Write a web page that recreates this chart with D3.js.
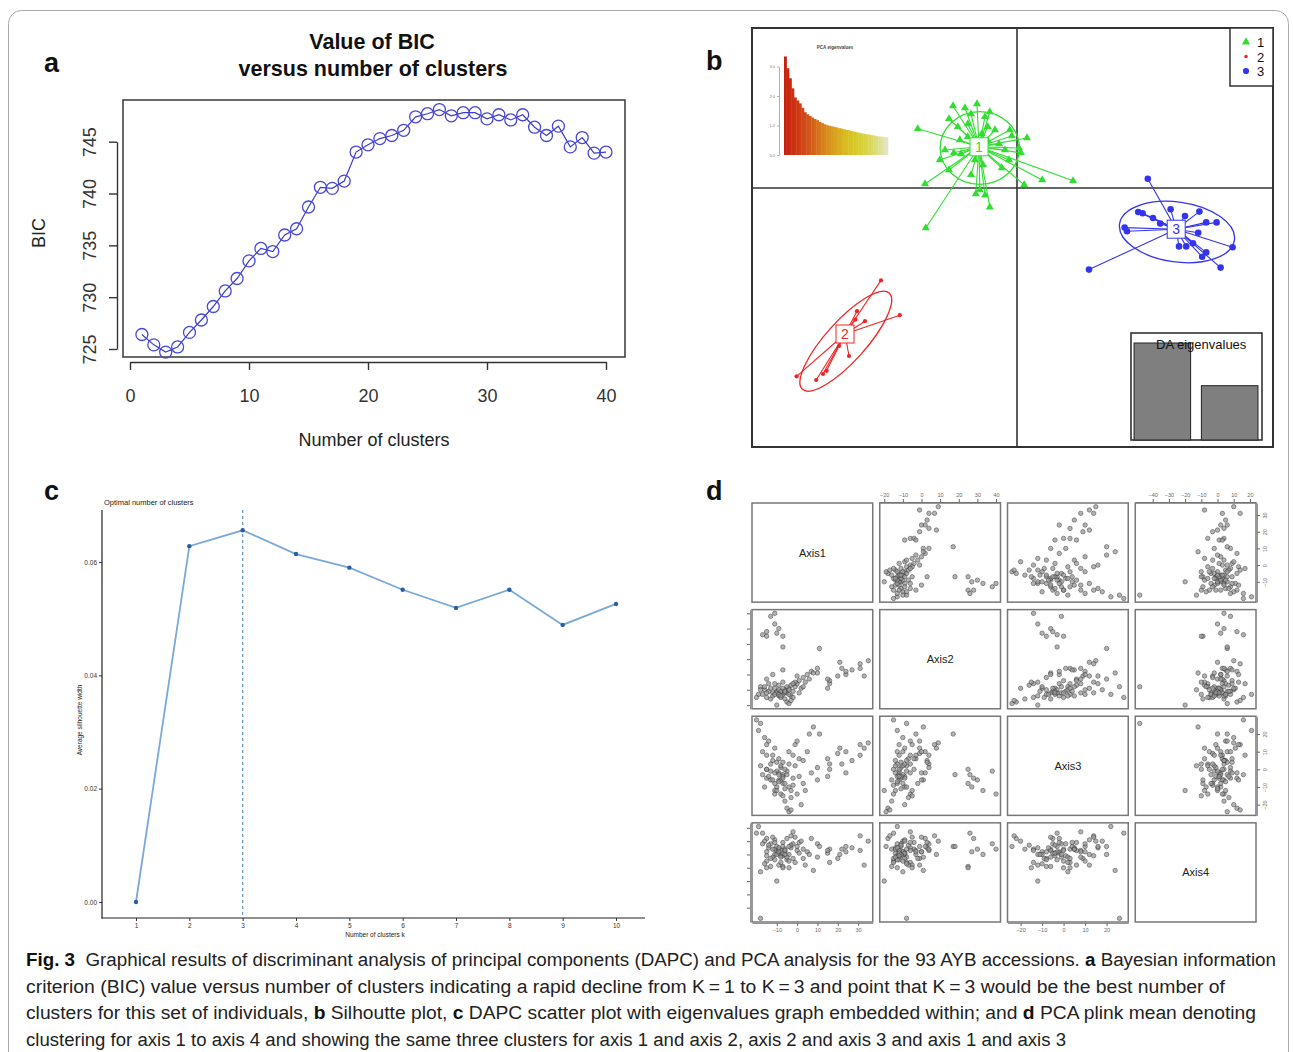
<!DOCTYPE html>
<html>
<head>
<meta charset="utf-8">
<script src="https://cdn.jsdelivr.net/npm/d3@7"></script>
<style>
  body { margin: 0; background: #fff; }
</style>
</head>
<body>
<svg id="fig" width="1293" height="1052"></svg>
<script>
// ---- data -------------------------------------------------------------
// (a) BIC value for k = 1..40
const bicValues = [726.4, 725.4, 724.7, 725.2, 726.6, 727.8, 729.1, 730.6, 731.8, 733.5,
                   734.7, 734.4, 736.0, 736.6, 738.7, 740.6, 740.5, 741.2, 744.0, 744.7,
                   745.3, 745.6, 746.1, 747.4, 747.7, 748.1, 747.5, 747.8, 747.8, 747.2,
                   747.6, 747.1, 747.6, 746.4, 745.6, 746.5, 744.5, 745.4, 743.9, 744.0];
const bicTicksX = [0, 10, 20, 30, 40];
const bicTicksY = [725, 730, 735, 740, 745];

// (b) DAPC scatter, LD1 / LD2 coordinates
const grp1Center = [-0.95, 1.03];
const grp1Points = [[-1.60, 2.05], [-1.00, 2.10], [-2.48, 1.48], [-2.30, 0.10], [-2.28, -1.00], [-1.70, 1.73],
  [-1.15, 1.85], [-0.80, 1.78], [-1.48, 1.53], [-1.23, 1.60], [-0.73, 1.53], [-0.13, 1.30], [0.25, 1.25],
  [0.10, 0.88], [0.05, 1.00], [-1.58, 0.88], [-1.70, 0.45], [-1.15, 0.33], [-0.85, 0.58], [-0.38, 0.50],
  [0.18, 0.08], [0.63, 0.20], [1.40, 0.18], [-1.03, -0.15], [-0.80, -0.18], [-0.68, -0.48], [-1.23, 1.28],
  [-1.40, 0.85], [-0.45, 1.10], [-0.20, 0.70], [-0.88, 1.35], [-0.73, 1.18], [-1.80, 0.95], [-1.43, 1.20],
  [-1.05, 0.70], [-0.55, 1.45], [-0.30, 0.95], [-1.93, 0.70], [-1.30, 2.00], [-0.68, 1.90], [-0.93, -0.05],
  [-0.18, 1.45]];
const grp1Ellipse = [-0.93, 1.00, 0.99, 0.91, 0];      // cx, cy, rx, ry, angle

const grp2Center = [-4.30, -3.65];
const grp2Points = [[-3.40, -2.31], [-2.93, -3.18], [-5.51, -4.71], [-5.02, -4.80], [-4.76, -4.57],
  [-4.20, -4.20], [-4.04, -3.29], [-3.80, -3.33], [-4.00, -3.08], [-4.85, -4.65], [-4.45, -3.95]];
const grp2Ellipse = [-4.28, -3.83, 1.62, 0.50, -48];

const grp3Center = [3.98, -1.03];
const grp3Points = [[3.27, 0.23], [3.03, -0.60], [3.14, -0.63], [3.84, -0.53], [3.58, -0.89], [2.69, -0.99],
  [2.75, -1.08], [4.56, -0.59], [4.73, -0.86], [4.99, -0.86], [4.53, -1.12], [5.39, -1.48], [5.09, -1.99],
  [4.73, -1.61], [4.63, -1.72], [4.05, -1.46], [4.23, -1.46], [4.40, -1.38], [1.80, -2.04], [3.40, -0.75],
  [4.20, -0.70]];
const grp3Ellipse = [4.00, -1.10, 1.45, 0.75, 8];

const pcaEigen = [3.34, 2.94, 2.60, 2.26, 1.95, 1.85, 1.75, 1.60, 1.45, 1.38, 1.32, 1.27, 1.22, 1.18,
                  1.12, 1.08, 1.04, 1.01, 0.99, 0.97, 0.95, 0.93, 0.91, 0.89, 0.87, 0.85, 0.83, 0.81,
                  0.79, 0.77, 0.75, 0.73, 0.72, 0.70, 0.69, 0.67, 0.66, 0.64, 0.63, 0.62, 0.61, 0.60];
const pcaTicks = [0, 1, 2, 3];
const daEigen = [1.00, 0.56];

// (c) average silhouette width
const silK = [1, 2, 3, 4, 5, 6, 7, 8, 9, 10];
const silWidth = [0, 0.0628, 0.0656, 0.0614, 0.0590, 0.0551, 0.0519, 0.0551, 0.0489, 0.0526];
const silTicks = [0, 0.02, 0.04, 0.06];
const silBest = 3;

// (d) PCA axes 1-4 for the 93 accessions
const axisNames = ["Axis1", "Axis2", "Axis3", "Axis4"];
const axisTicks = [[-10, 0, 10, 20, 30], [-20, -10, 0, 10, 20, 30, 40],
                   [-20, -10, 0, 10, 20], [-40, -30, -20, -10, 0, 10, 20]];
const pcaRows = [
  [33, -1, 12, -8], [35, 9, 15, 10], [31, 7, 14, 14], [31, 4, 8, 3], [27, 3, 5, 5], [24, 0, -2, 2],
  [24, 2, 10, 6], [22, 4, 3, 4], [21, 8, 12, 0], [20, -1, 9, -3], [15, -9, -4, 1], [16, -6, 3, -6],
  [16, -4, 0, 4], [15, -3, 6, 3], [10, 1, -6, -2], [10, 4, 1, 8], [11, 17, 20, 6],
  [-7, 18, -3, 6], [-7, 25, -8, -9], [-10, 27, -10, 2], [-9, 30, -6, 4], [-11, 33, -12, 0],
  [-15, 25, 0, -10], [-15, 28, -5, 12], [-11, 40, -14, 4], [-13, 38, -1, 8], [-17, 26, -3, 16],
  [-18, -8, 26, -48],
  [-19, -13, 22, 21], [-20, -15, 28, 16], [-16, -10, 18, 10], [-14, -6, 16, 5], [-12, -12, 8, -2],
  [-10, -11, 4, 6], [-9, -14, -2, 1], [-8, -12, -6, 3], [-7, -13, -4, -1], [-6, -10, -8, 2],
  [-5, -12, -3, -4], [-4, -9, -10, 0], [-3, -14, -12, 5], [-2, -11, -5, 8], [-1, -8, 2, -6],
  [0, -6, -14, 3], [1, -4, 6, 9], [3, -2, -8, -3], [5, 0, 10, 2], [7, 2, -2, 12], [-17, -13, 10, 8],
  [-15, -15, 0, -5], [-13, -16, -6, -9], [-11, -9, 12, 11], [-9, -7, 6, -8], [-8, -15, -14, -6],
  [-6, -16, -18, 4], [-5, -8, -1, -2], [-4, -13, 3, -10], [-3, -7, -16, 7], [-2, -15, -9, -3],
  [-10, -12, -1, 0], [-9, -10, -3, 2], [-8, -11, 1, -1], [-7, -9, -5, 1], [-6, -12, 0, 3],
  [-12, -14, 5, 4], [-14, -11, -4, 7], [-11, -13, -8, -4], [-1, -5, 14, 13], [2, -9, -20, 10],
  [-5, -18, -22, 12], [-4, -19, -24, 6], [-3, -17, -23, 14], [-18, -10, 2, -13], [-16, -8, -10, -7],
  [-10, -20, -12, -20], [6, -3, 20, 0], [8, 1, 24, -12], [-2, -6, 8, 17], [0, -1, 16, 6],
  [4, -5, -12, -8], [-7, 3, 4, 9], [-12, 0, -6, 13], [-15, -3, 8, 2], [-9, -13, -7, 5],
  [-8, -14, 2, -2], [-6, -11, -11, 0], [-13, -9, 3, -3], [-11, -6, -2, 9], [-4, -10, 10, -5],
  [1, -12, -4, 1], [-7, -5, -15, -10], [3, -8, 5, 4], [-15, -12, 14, -1]
];

// ---- drawing ----------------------------------------------------------
const FONT = "Liberation Sans, Arial, Helvetica, sans-serif";
const svg = d3.select("#fig").attr("font-family", FONT);

svg.append("rect").attr("width", 1293).attr("height", 1052).attr("fill", "#fff");
// rounded frame around the figure
svg.append("rect")
   .attr("x", 8.5).attr("y", 10.5).attr("width", 1280).attr("height", 1100).attr("rx", 13)
   .attr("fill", "none").attr("stroke", "#a8a8a8").attr("stroke-width", 1);

function styleAxis(g, size, color) {
  g.attr("font-family", FONT).attr("font-size", size);
  g.selectAll("text").attr("fill", color);
  g.selectAll("line, path").attr("stroke", color);
}

// panel letters
svg.selectAll("text.plabel")
   .data([["a", 44, 72], ["b", 706, 70], ["c", 44, 500], ["d", 706, 500]])
   .join("text")
   .attr("class", "plabel")
   .attr("x", d => d[1]).attr("y", d => d[2])
   .attr("font-size", 27).attr("font-weight", "bold").attr("fill", "#111")
   .text(d => d[0]);

// ===== (a) BIC =====
{
  const x = d3.scaleLinear([0, 40], [130, 606]);
  const y = d3.scaleLinear([725, 745], [349, 141.7]);
  const g = svg.append("g");

  g.append("text").attr("x", 372).attr("y", 49).attr("text-anchor", "middle")
   .attr("font-size", 21.5).attr("font-weight", "bold").attr("fill", "#111").text("Value of BIC");
  g.append("text").attr("x", 373).attr("y", 76).attr("text-anchor", "middle")
   .attr("font-size", 21.5).attr("font-weight", "bold").attr("fill", "#111").text("versus number of clusters");

  g.append("rect").attr("x", 123).attr("y", 100).attr("width", 502).attr("height", 257)
   .attr("fill", "none").attr("stroke", "#444").attr("stroke-width", 1.6);

  g.append("g").attr("transform", "translate(0,362)")
   .call(d3.axisBottom(x).tickValues(bicTicksX).tickSize(8).tickPadding(19).tickSizeOuter(0))
   .call(a => { styleAxis(a, 18, "#333"); a.selectAll("line, path").attr("stroke-width", 1.4); });

  g.append("g").attr("transform", "translate(117,0)")
   .call(d3.axisLeft(y).tickValues(bicTicksY).tickSize(8).tickSizeOuter(0))
   .call(a => {
     styleAxis(a, 18, "#333");
     a.selectAll("line, path").attr("stroke-width", 1.4);
     a.selectAll(".tick text").attr("x", null).attr("dy", null)
      .attr("text-anchor", "middle").attr("transform", "translate(-21,0) rotate(-90)");
   });

  g.append("text").attr("x", 374).attr("y", 446).attr("text-anchor", "middle")
   .attr("font-size", 18).attr("fill", "#222").text("Number of clusters");
  g.append("text").attr("transform", "translate(45,233) rotate(-90)").attr("text-anchor", "middle")
   .attr("font-size", 18).attr("fill", "#222").text("BIC");

  const line = d3.line().x((d, i) => x(i + 1)).y(d => y(d));
  g.append("path").datum(bicValues).attr("d", line)
   .attr("fill", "none").attr("stroke", "#3b3bc9").attr("stroke-width", 1.2);
  g.selectAll("circle").data(bicValues).join("circle")
   .attr("cx", (d, i) => x(i + 1)).attr("cy", d => y(d)).attr("r", 6)
   .attr("fill", "none").attr("stroke", "#4848d8").attr("stroke-width", 1.3);
}

// ===== (b) DAPC scatter =====
{
  const x = d3.scaleLinear([-6.625, 6.4], [752, 1273]);
  const y = d3.scaleLinear([-6.475, 4], [447, 28]);
  const k = x(1) - x(0);
  const g = svg.append("g");

  g.append("rect").attr("x", 752).attr("y", 28).attr("width", 521).attr("height", 419)
   .attr("fill", "#fff").attr("stroke", "#333").attr("stroke-width", 2);
  g.append("line").attr("x1", x(0)).attr("x2", x(0)).attr("y1", 28).attr("y2", 447)
   .attr("stroke", "#333").attr("stroke-width", 1.6);
  g.append("line").attr("x1", 752).attr("x2", 1273).attr("y1", y(0)).attr("y2", y(0))
   .attr("stroke", "#333").attr("stroke-width", 1.6);

  // PCA eigenvalue inset
  const px = d3.scaleBand(d3.range(pcaEigen.length), [784, 888]);
  const py = d3.scaleLinear([0, 3], [155, 66.5]);
  const col = d3.scaleSequential([0, pcaEigen.length - 1],
    d3.interpolateRgbBasis(["#c8200c", "#d2481a", "#d98a1c", "#d8c21e", "#d6d632", "#e4e4c8"]));
  g.append("g").selectAll("rect").data(pcaEigen).join("rect")
   .attr("x", (d, i) => px(i)).attr("width", px.bandwidth() + 0.4)
   .attr("y", d => py(d)).attr("height", d => py(0) - py(d))
   .attr("fill", (d, i) => col(i));
  g.append("g").attr("transform", "translate(779,0)")
   .call(d3.axisLeft(py).tickValues(pcaTicks).tickSize(2).tickPadding(2).tickSizeOuter(0))
   .call(a => { styleAxis(a, 4, "#777"); a.selectAll("line, path").attr("stroke-width", 0.6); });
  g.append("text").attr("x", 835).attr("y", 49).attr("text-anchor", "middle")
   .attr("font-size", 4.5).attr("font-weight", "bold").attr("fill", "#444").text("PCA eigenvalues");

  const groups = [
    { id: "1", color: "#30dd30", center: grp1Center, pts: grp1Points, ell: grp1Ellipse, sym: d3.symbolTriangle, size: 28 },
    { id: "2", color: "#ee2424", center: grp2Center, pts: grp2Points, ell: grp2Ellipse, sym: d3.symbolCircle, size: 14 },
    { id: "3", color: "#3434ee", center: grp3Center, pts: grp3Points, ell: grp3Ellipse, sym: d3.symbolCircle, size: 34 }
  ];

  groups.forEach(gr => {
    const gg = g.append("g");
    const [ex, ey, rx, ry, ang] = gr.ell;
    gg.append("ellipse").attr("cx", x(ex)).attr("cy", y(ey)).attr("rx", rx * k).attr("ry", ry * k)
      .attr("transform", `rotate(${ang},${x(ex)},${y(ey)})`)
      .attr("fill", "none").attr("stroke", gr.color).attr("stroke-width", 1.3);
    gg.selectAll("line").data(gr.pts).join("line")
      .attr("x1", x(gr.center[0])).attr("y1", y(gr.center[1]))
      .attr("x2", d => x(d[0])).attr("y2", d => y(d[1]))
      .attr("stroke", gr.color).attr("stroke-width", 1.1);
    gg.selectAll("path.pt").data(gr.pts).join("path").attr("class", "pt")
      .attr("transform", d => `translate(${x(d[0])},${y(d[1])})`)
      .attr("d", d3.symbol(gr.sym, gr.size)).attr("fill", gr.color);
    gg.append("rect").attr("x", x(gr.center[0]) - 9).attr("y", y(gr.center[1]) - 9)
      .attr("width", 18).attr("height", 18).attr("fill", "#fff")
      .attr("stroke", gr.color).attr("stroke-width", 1);
    gg.append("text").attr("x", x(gr.center[0])).attr("y", y(gr.center[1]) + 5)
      .attr("text-anchor", "middle").attr("font-size", 14).attr("fill", gr.color).text(gr.id);
  });

  // legend
  g.append("rect").attr("x", 1230).attr("y", 28).attr("width", 43).attr("height", 58)
   .attr("fill", "#fff").attr("stroke", "#333").attr("stroke-width", 1.5);
  const lg = g.selectAll("g.leg").data(groups).join("g").attr("class", "leg")
   .attr("transform", (d, i) => `translate(1246,${42 + i * 14.5})`);
  lg.append("path").attr("d", d => d3.symbol(d.sym, d.id === "2" ? 10 : 30)()).attr("fill", d => d.color);
  lg.append("text").attr("x", 11).attr("y", 5).attr("font-size", 13).attr("fill", "#111").text(d => d.id);

  // DA eigenvalue inset
  g.append("rect").attr("x", 1131).attr("y", 333).attr("width", 131).attr("height", 107)
   .attr("fill", "#fff").attr("stroke", "#333").attr("stroke-width", 1.6);
  const dx = d3.scaleBand([0, 1], [1130, 1262]).paddingInner(0.16).paddingOuter(0.06);
  const dy = d3.scaleLinear([0, 1], [440, 343]);
  g.append("g").selectAll("rect").data(daEigen).join("rect")
   .attr("x", (d, i) => dx(i)).attr("width", dx.bandwidth())
   .attr("y", d => dy(d)).attr("height", d => dy(0) - dy(d))
   .attr("fill", "#7f7f7f").attr("stroke", "#222").attr("stroke-width", 1);
  g.append("text").attr("x", 1156).attr("y", 349).attr("font-size", 13).attr("fill", "#111").text("DA eigenvalues");
}

// ===== (c) silhouette =====
{
  const x = d3.scaleLinear([1, 10], [136, 616]);
  const y = d3.scaleLinear([0, 0.06], [902, 562]);
  const g = svg.append("g");

  g.append("text").attr("x", 104).attr("y", 505).attr("font-size", 7.5).attr("fill", "#222")
   .text("Optimal number of clusters");

  g.append("g").attr("transform", "translate(102,0)")
   .call(d3.axisLeft(y).tickValues(silTicks).tickFormat(d3.format(".2f")).tickSize(3).tickPadding(2))
   .call(a => { styleAxis(a, 6.5, "#333"); a.select(".domain").remove(); });
  g.append("g").attr("transform", "translate(0,918)")
   .call(d3.axisBottom(x).tickValues(silK).tickSize(3).tickPadding(2))
   .call(a => { styleAxis(a, 6.5, "#333"); a.select(".domain").remove(); });
  g.append("line").attr("x1", 102).attr("x2", 102).attr("y1", 510).attr("y2", 918.5)
   .attr("stroke", "#222").attr("stroke-width", 1.2);
  g.append("line").attr("x1", 101.5).attr("x2", 645).attr("y1", 918).attr("y2", 918)
   .attr("stroke", "#222").attr("stroke-width", 1.2);

  g.append("text").attr("transform", "translate(82,720) rotate(-90)").attr("text-anchor", "middle")
   .attr("font-size", 6.5).attr("fill", "#222").text("Average silhouette width");
  g.append("text").attr("x", 375).attr("y", 937).attr("text-anchor", "middle")
   .attr("font-size", 6.5).attr("fill", "#222").text("Number of clusters k");

  g.append("line").attr("x1", x(silBest)).attr("x2", x(silBest)).attr("y1", 510).attr("y2", 918)
   .attr("stroke", "#5b8fc9").attr("stroke-width", 1.2).attr("stroke-dasharray", "3,3");

  const line = d3.line().x((d, i) => x(silK[i])).y(d => y(d));
  g.append("path").datum(silWidth).attr("d", line)
   .attr("fill", "none").attr("stroke", "#7aa8d8").attr("stroke-width", 1.8);
  g.selectAll("circle").data(silWidth).join("circle")
   .attr("cx", (d, i) => x(silK[i])).attr("cy", d => y(d)).attr("r", 2.2).attr("fill", "#2a5f9e");
}

// ===== (d) pairs plot =====
{
  const n = axisNames.length;
  const colBand = d3.scaleBand(d3.range(n), [752, 1256]).paddingInner(0.055);
  const rowBand = d3.scaleBand(d3.range(n), [503, 922]).paddingInner(0.07);
  const w = colBand.bandwidth(), h = rowBand.bandwidth();
  // R-style 4% padding of each axis range
  const dom = axisNames.map((a, j) => {
    const e = d3.extent(pcaRows, r => r[j]);
    const pad = (e[1] - e[0]) * 0.04;
    return [e[0] - pad, e[1] + pad];
  });
  const g = svg.append("g");

  for (let i = 0; i < n; i++) {
    for (let j = 0; j < n; j++) {
      const cell = g.append("g").attr("transform", `translate(${colBand(j)},${rowBand(i)})`);
      cell.append("rect").attr("width", w).attr("height", h)
          .attr("fill", "#fff").attr("stroke", "#777").attr("stroke-width", 1.5);
      if (i === j) {
        cell.append("text").attr("x", w / 2).attr("y", h / 2 + 4).attr("text-anchor", "middle")
            .attr("font-size", 11).attr("fill", "#222").text(axisNames[i]);
        continue;
      }
      const sx = d3.scaleLinear(dom[j], [0, w]);
      const sy = d3.scaleLinear(dom[i], [h, 0]);
      cell.selectAll("circle").data(pcaRows).join("circle")
          .attr("cx", r => sx(r[j])).attr("cy", r => sy(r[i])).attr("r", 2.2)
          .attr("fill", "#9a9a9a").attr("stroke", "#333").attr("stroke-width", 0.7)
          .attr("opacity", 0.75);
    }
  }

  // outer axes, alternating like pairs()
  for (let j = 0; j < n; j++) {
    const sx = d3.scaleLinear(dom[j], [colBand(j), colBand(j) + w]);
    const top = j % 2 === 1;
    const ax = (top ? d3.axisTop(sx) : d3.axisBottom(sx)).tickValues(axisTicks[j])
      .tickSize(3).tickPadding(2).tickSizeOuter(0);
    g.append("g").attr("transform", `translate(0,${top ? rowBand(0) - 1 : rowBand(n - 1) + h + 1})`)
     .call(ax).call(a => { styleAxis(a, 5.5, "#666"); a.select(".domain").attr("stroke-width", 0.7); });
  }
  for (let i = 0; i < n; i++) {
    const sy = d3.scaleLinear(dom[i], [rowBand(i) + h, rowBand(i)]);
    const right = i % 2 === 0;
    const ax = (right ? d3.axisRight(sy) : d3.axisLeft(sy)).tickValues(axisTicks[i])
      .tickSize(3).tickPadding(3).tickSizeOuter(0);
    g.append("g").attr("transform", `translate(${right ? colBand(n - 1) + w + 1 : 750},0)`)
     .call(ax).call(a => {
       styleAxis(a, 5.5, "#666");
       a.select(".domain").attr("stroke-width", 0.7);
       if (right) {
         a.selectAll(".tick text").attr("x", null).attr("dy", null).attr("text-anchor", "middle")
          .attr("transform", "translate(10,0) rotate(-90)");
       } else {
         a.selectAll(".tick text").remove();
       }
     });
  }
}

// ===== caption =====
{
  const cap = svg.append("g").attr("font-family", "Liberation Sans Narrow, Liberation Sans, Arial, sans-serif")
                 .attr("font-size", 18).attr("fill", "#222");
  const lines = [
    { y: 966, len: 1250, parts: [["Fig. 3", true], ["  Graphical results of discriminant analysis of principal components (DAPC) and PCA analysis for the 93 AYB accessions. ", false], ["a", true], [" Bayesian information", false]] },
    { y: 993, len: 1199, parts: [["criterion (BIC) value versus number of clusters indicating a rapid decline from K\u2009=\u20091 to K\u2009=\u20093 and point that K\u2009=\u20093 would be the best number of", false]] },
    { y: 1019, len: 1230, parts: [["clusters for this set of individuals, ", false], ["b", true], [" Silhoutte plot, ", false], ["c", true], [" DAPC scatter plot with eigenvalues graph embedded within; and ", false], ["d", true], [" PCA plink mean denoting", false]] },
    { y: 1046, len: 1040, parts: [["clustering for axis 1 to axis 4 and showing the same three clusters for axis 1 and axis 2, axis 2 and axis 3 and axis 1 and axis 3", false]] }
  ];
  lines.forEach(l => {
    const t = cap.append("text").attr("x", 26).attr("y", l.y)
                 .attr("textLength", l.len).attr("lengthAdjust", "spacingAndGlyphs")
                 .attr("xml:space", "preserve");
    l.parts.forEach(p => t.append("tspan").attr("font-weight", p[1] ? "bold" : null)
                          .attr("fill", p[1] ? "#111" : null).text(p[0]));
  });
}
</script>
</body>
</html>
